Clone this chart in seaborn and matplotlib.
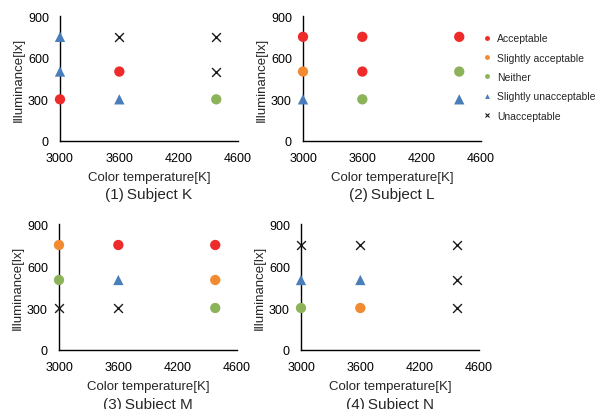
import pandas as pd
import matplotlib.pyplot as plt
import seaborn as sns
from matplotlib.lines import Line2D

# Data
temps = [3000, 3600, 4580]
lux_levels = [750, 500, 300]
subjects = ["(1) Subject K", "(2) Subject L", "(3) Subject M", "(4) Subject N"]

# rating for each temp column (top to bottom: 750, 500, 300)
subject_k = [["Slightly unacceptable", "Slightly unacceptable", "Acceptable"],
             ["Unacceptable", "Acceptable", "Slightly unacceptable"],
             ["Unacceptable", "Unacceptable", "Neither"]]
subject_l = [["Acceptable", "Slightly acceptable", "Slightly unacceptable"],
             ["Acceptable", "Acceptable", "Neither"],
             ["Acceptable", "Neither", "Slightly unacceptable"]]
subject_m = [["Slightly acceptable", "Neither", "Unacceptable"],
             ["Acceptable", "Slightly unacceptable", "Unacceptable"],
             ["Acceptable", "Slightly acceptable", "Neither"]]
subject_n = [["Unacceptable", "Slightly unacceptable", "Neither"],
             ["Unacceptable", "Slightly unacceptable", "Slightly acceptable"],
             ["Unacceptable", "Unacceptable", "Unacceptable"]]

ratings = ["Acceptable", "Slightly acceptable", "Neither",
           "Slightly unacceptable", "Unacceptable"]
colors = ["#ee2a2a", "#f28a32", "#8cb35a", "#4a7ebb", "#1a1a1a"]
markers = ["o", "o", "o", "^", "x"]

x_ticks = [3000, 3600, 4200, 4800]
x_labels = ["3000", "3600", "4200", "4600"]
y_ticks = [0, 300, 600, 900]

# Build long table
rows = []
for name, grid in zip(subjects, [subject_k, subject_l, subject_m, subject_n]):
    for t, col in zip(temps, grid):
        for lx, r in zip(lux_levels, col):
            rows.append({"subject": name, "temp": t, "lux": lx, "rating": r})
df = pd.DataFrame(rows)

sns.set_style("white")
plt.rcParams['font.family'] = ['Liberation Sans', 'DejaVu Sans']

fig = plt.figure(figsize=(6.01, 4.10), dpi=100)
W, H = 601, 410
boxes = [(60, 17, 178, 125), (303, 17, 178, 125),
         (59, 225, 178, 126), (301, 225, 178, 126)]

for name, (l, t, w, h) in zip(subjects, boxes):
    ax = fig.add_axes([l / W, (H - t - h) / H, w / W, h / H])
    sub = df[df["subject"] == name]
    for r, c, m in zip(ratings, colors, markers):
        part = sub[sub["rating"] == r]
        if part.empty:
            continue
        if m == "x":
            sns.scatterplot(data=part, x="temp", y="lux", marker="x", color=c,
                            s=40, linewidth=1.0, ax=ax, legend=False, zorder=3,
                            clip_on=False)
        else:
            sns.scatterplot(data=part, x="temp", y="lux", marker=m, color=c,
                            s=55, edgecolor="none", ax=ax, legend=False,
                            zorder=3, clip_on=False)
    ax.set_xlim(3000, 4800)
    ax.set_ylim(0, 900)
    ax.set_xticks(x_ticks)
    ax.set_xticklabels(x_labels)
    ax.set_yticks(y_ticks)
    ax.tick_params(direction="in", length=3, width=0.8, labelsize=9,
                   colors="black")
    ax.tick_params(axis="x", pad=8)
    ax.tick_params(axis="y", pad=8)
    for s in ["top", "right"]:
        ax.spines[s].set_visible(False)
    for s in ["left", "bottom"]:
        ax.spines[s].set_color("black")
        ax.spines[s].set_linewidth(1.0)
    ax.set_xlabel("Color temperature[K]", fontsize=9.5, labelpad=5)
    ax.set_ylabel("Illuminance[lx]", fontsize=9.5, labelpad=2)
    ax.text(0.5, -0.37, name.replace(") ", ")\u2009"), transform=ax.transAxes,
            ha="center", va="top", fontsize=11)

handles = [Line2D([], [], linestyle="none", marker=m, color=c, markersize=3.5,
                  markeredgewidth=0.8 if m == "x" else 0)
           for c, m in zip(colors, markers)]
fig.legend(handles, ratings, loc="upper left", bbox_to_anchor=(478 / W, 1 - 30 / H),
           frameon=False, fontsize=7.5, handletextpad=0.4, handlelength=1.0,
           labelspacing=0.9, borderaxespad=0)

fig.savefig("out.png", dpi=100)
